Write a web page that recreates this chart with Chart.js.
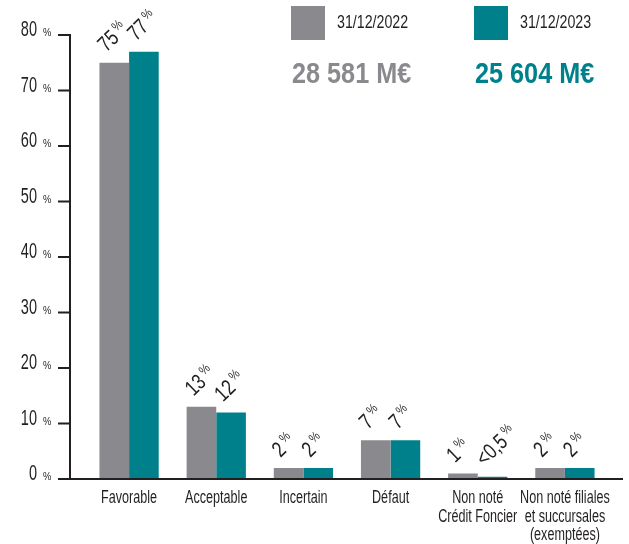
<!DOCTYPE html>
<html><head><meta charset="utf-8">
<script src="https://cdn.jsdelivr.net/npm/chart.js@4/dist/chart.umd.min.js"></script>
<style>
html,body{margin:0;padding:0;background:#fff;}
canvas{display:block;}
</style></head><body>
<canvas id="c" width="629" height="544"></canvas>
<script>
const categories = [["Favorable"],["Acceptable"],["Incertain"],["Défaut"],["Non noté","Crédit Foncier"],["Non noté filiales","et succursales","(exemptées)"]];
const seriesNames = ["31/12/2022","31/12/2023"];
const seriesTotals = ["28 581 M€","25 604 M€"];
const values2022 = [75,13,2,7,1,2];
const values2023 = [77,12,2,7,0.4,2];
const valueLabels2022 = ["75","13","2","7","1","2"];
const valueLabels2023 = ["77","12","2","7","<0,5","2"];
const yTicks = [0,10,20,30,40,50,60,70,80];

const GRAY = '#8a8a8e', TEAL = '#00808a', INK = '#231f20';
const FAM = '"Liberation Sans", Arial, sans-serif';

function txt(ctx, s, x, y, size, sx, align, bold, color) {
  ctx.save();
  ctx.translate(x, y);
  ctx.scale(sx, 1);
  ctx.font = (bold ? 'bold ' : '') + size + 'px ' + FAM;
  ctx.textAlign = align; ctx.textBaseline = 'alphabetic';
  if (color) ctx.fillStyle = color;
  ctx.fillText(s, 0, 0);
  const w = ctx.measureText(s).width * sx;
  ctx.restore();
  return w;
}

const deco = {
  id: 'deco',
  afterDraw(chart) {
    const ctx = chart.ctx;
    const ys = chart.scales.y, xs = chart.scales.x;
    const y0 = ys.getPixelForValue(0), yTop = ys.getPixelForValue(80);
    ctx.save();
    ctx.strokeStyle = INK; ctx.lineWidth = 2;
    ctx.beginPath();
    ctx.moveTo(70, yTop - 1); ctx.lineTo(70, y0);
    ctx.moveTo(58, y0); ctx.lineTo(623, y0);
    yTicks.forEach(v => { const y = ys.getPixelForValue(v); ctx.moveTo(58, y); ctx.lineTo(70, y); });
    ctx.stroke();
    ctx.fillStyle = INK;
    // y tick labels
    yTicks.forEach(v => {
      const y = ys.getPixelForValue(v) + 1;
      txt(ctx, String(v), 37, y, 22, 0.66, 'right');
      txt(ctx, '%', 43, y, 11, 0.85, 'left');
    });
    // x category labels
    chart.data.labels.forEach((lab, i) => {
      const x = xs.getPixelForValue(i);
      lab.forEach((line, li) => txt(ctx, line, x, 503 + li * 18.7, 17.5, 0.72, 'center'));
    });
    // value labels
    const labelSets = [valueLabels2022, valueLabels2023];
    chart.data.datasets.forEach((ds, di) => {
      chart.getDatasetMeta(di).data.forEach((bar, i) => {
        ctx.save();
        ctx.translate(bar.x - 8, bar.y - 10);
        ctx.rotate(-44 * Math.PI / 180);
        const w = txt(ctx, labelSets[di][i], 0, 0, 22, 0.78, 'left');
        txt(ctx, '%', w + 3, -8, 13, 0.85, 'left');
        ctx.restore();
      });
    });
    // legend
    const lx = [291, 474];
    chart.data.datasets.forEach((ds, di) => {
      ctx.fillStyle = ds.backgroundColor;
      ctx.fillRect(lx[di], 6, 34, 34);
      txt(ctx, ds.label, lx[di] + 46, 28, 18, 0.79, 'left', false, INK);
      txt(ctx, seriesTotals[di], lx[di] + 1, 83, 29, 0.87, 'left', true, ds.backgroundColor);
    });
    ctx.restore();
  }
};

new Chart(document.getElementById('c'), {
  type: 'bar',
  data: {
    labels: categories,
    datasets: [
      { label: seriesNames[0], data: values2022, backgroundColor: GRAY, categoryPercentage: 0.68, barPercentage: 1 },
      { label: seriesNames[1], data: values2023, backgroundColor: TEAL, categoryPercentage: 0.68, barPercentage: 1 }
    ]
  },
  options: {
    responsive: false, animation: false,
    layout: { padding: { left: 0, right: 20.5, top: 35, bottom: 0 } },
    plugins: { legend: { display: false }, tooltip: { enabled: false } },
    scales: {
      x: {
        grid: { display: false, drawTicks: false }, border: { display: false },
        ticks: { display: false },
        afterFit: s => { s.height = 65; }
      },
      y: {
        min: 0, max: 80,
        grid: { display: false, drawTicks: false }, border: { display: false },
        ticks: { display: false, stepSize: 10 },
        afterFit: s => { s.width = 85.5; }
      }
    }
  },
  plugins: [deco]
});
</script>
</body></html>
